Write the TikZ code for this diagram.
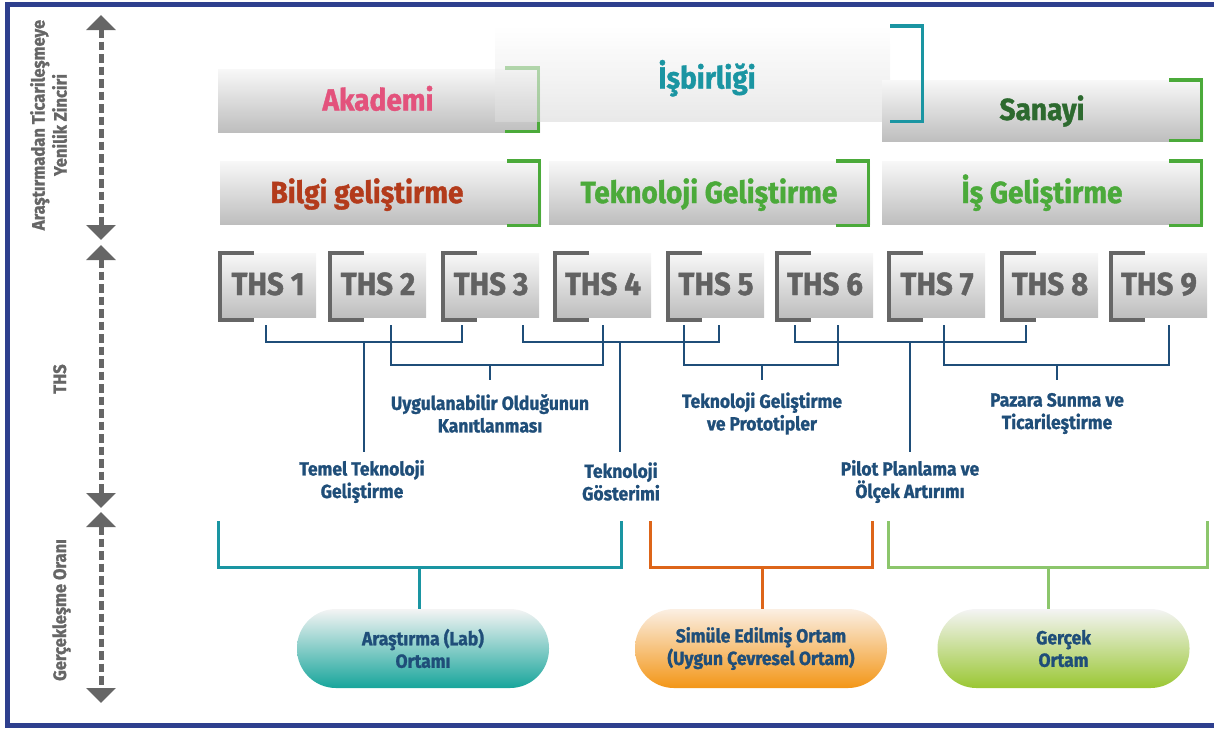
\documentclass[tikz,border=0pt]{standalone}
\usepackage{fontspec}
\setmainfont{Fira Sans}[FakeStretch=0.92, BoldFeatures={FakeBold=1.2}]
\usetikzlibrary{arrows.meta}

\definecolor{framecol}{HTML}{2E3F8E}
\definecolor{axgray}{HTML}{666666}
\definecolor{txtgray}{HTML}{666666}
\definecolor{treeblue}{HTML}{1F4E79}
\definecolor{boxtop}{HTML}{F8F8F8}
\definecolor{boxbot}{HTML}{BEBEBE}
\definecolor{akpink}{HTML}{E3527C}
\definecolor{tealc}{HTML}{1A95A2}
\definecolor{darkgreen}{HTML}{2D6A2F}
\definecolor{rust}{HTML}{B33B1B}
\definecolor{grn}{HTML}{4BAA3A}
\definecolor{orangec}{HTML}{DD6519}
\definecolor{lgreen}{HTML}{8CC66C}
\definecolor{pilltop}{HTML}{F4F4F4}
\definecolor{pillteal}{HTML}{17A59B}
\definecolor{orangetop}{HTML}{FBEFE3}
\definecolor{pillorange}{HTML}{F39617}
\definecolor{pillgreen}{HTML}{9AC733}
\definecolor{thsgray}{HTML}{626262}

\begin{document}
\begin{tikzpicture}[x=1pt,y=-1pt,
  frameline/.style={draw=framecol, line width=5pt},
  axisline/.style={draw=axgray, line width=5pt, dash pattern=on 8.5pt off 4pt,
    {Triangle[width=29pt,length=15pt]}-{Triangle[width=29pt,length=15pt]}},
  sidetxt/.style={rotate=90, text=txtgray, font=\fontsize{18}{22}\selectfont\bfseries, align=center, inner sep=0pt},
  graybox/.style={rectangle, inner sep=0pt, outer sep=0pt, top color=boxtop, bottom color=boxbot, draw=none},
  bigtxt/.style={inner sep=0pt, font=\fontsize{30.5}{36}\selectfont\bfseries},
  rbrk/.style={line width=3.5pt, line join=miter, line cap=butt},
  thsbox/.style={graybox, minimum width=96pt, minimum height=64pt},
  thsbrk/.style={draw=axgray, line width=4pt, line join=miter},
  thstxt/.style={inner sep=0pt, text=thsgray, font=\fontsize{32}{36}\selectfont\bfseries},
  tree/.style={draw=treeblue, line width=2.8pt, line join=miter},
  lbl/.style={inner sep=0pt, text=treeblue, align=center, font=\fontsize{19}{22.5}\selectfont\bfseries},
  envline/.style={line width=3pt, line join=miter},
  pill/.style={rectangle, rounded corners=39pt, minimum width=252pt, minimum height=79pt, inner sep=0pt,
    text=treeblue, align=center, font=\fontsize{19}{22.5}\selectfont\bfseries}
]
\useasboundingbox (0,0) rectangle (1214,729);

% outer frame (open on the right)
\draw[frameline] (1220,4) -- (7.5,4) -- (7.5,725.5) -- (1220,725.5);

% vertical axis with three double-headed dashed segments
\coordinate (ax1) at (101,15);  \coordinate (ax2) at (101,240);
\coordinate (ax3) at (101,245); \coordinate (ax4) at (101,508);
\coordinate (ax5) at (101,512); \coordinate (ax6) at (101,703);
\draw[axisline] (ax1) -- (ax2);
\draw[axisline] (ax3) -- (ax4);
\draw[axisline] (ax5) -- (ax6);

\node[sidetxt] (side1) at (48.5,125) {Araştırmadan Ticarileşmeye\\Yenilik Zinciri};
\node[sidetxt, anchor=base] (side2) at (66,379) {THS};
\node[sidetxt, anchor=base] (side3) at (66,610) {Gerçekleşme Oranı};

% first row: actors
\node[graybox, minimum width=322pt, minimum height=63pt] (akbox) at (379,100.5) {};
\draw[rbrk, draw=grn] (505,67.75) -- (538.25,67.75) -- (538.25,131.25) -- (505,131.25);
\node[graybox, top color=white, bottom color=boxbot!55, fill opacity=0.62, minimum width=395pt, minimum height=95pt] (isbox) at (692.5,73.5) {};
\node[graybox, minimum width=321pt, minimum height=61pt] (sanbox) at (1042.5,110.5) {};
\draw[rbrk, draw=tealc] (890,25.75) -- (922.25,25.75) -- (922.25,121.25) -- (890,121.25);
\draw[rbrk, draw=grn] (1169,79.75) -- (1201.25,79.75) -- (1201.25,140.25) -- (1169,140.25);

\node[bigtxt, text=akpink, anchor=base] (aktxt) at (378,110.5) {Akademi};
\node[bigtxt, text=tealc, anchor=base] (istxt) at (707,88.5) {İşbirliği};
\node[bigtxt, text=darkgreen, anchor=base] (santxt) at (1042,120) {Sanayi};

% second row: development stages
\node[graybox, minimum width=321pt, minimum height=63pt] (bgbox) at (380.5,192.5) {};
\node[graybox, minimum width=321pt, minimum height=63pt] (tgbox) at (709.5,192.5) {};
\node[graybox, minimum width=321pt, minimum height=63pt] (igbox) at (1042.5,192.5) {};
\draw[rbrk, draw=grn] (507,160.75) -- (539.25,160.75) -- (539.25,225.25) -- (507,225.25);
\draw[rbrk, draw=grn] (836,160.75) -- (868.25,160.75) -- (868.25,225.25) -- (836,225.25);
\draw[rbrk, draw=grn] (1169,160.75) -- (1201.25,160.75) -- (1201.25,225.25) -- (1169,225.25);

\node[bigtxt, text=rust, anchor=base] (bgtxt) at (367,203) {Bilgi geliştirme};
\node[bigtxt, text=grn, anchor=base] (tgtxt) at (709,203) {Teknoloji Geliştirme};
\node[bigtxt, text=grn, anchor=base] (igtxt) at (1042,203) {İş Geliştirme};

% technology readiness levels
\foreach \i/\L in {1/218,2/328,3/441,4/553,5/666,6/775,7/887,8/1000,9/1109} {
  \node[thsbox] (t\i) at (\L+50,285) {};
  \draw[thsbrk] (\L+36,252.5) -- (\L+2,252.5) -- (\L+2,319.5) -- (\L+36,319.5);
  \node[thstxt, anchor=base] (th\i) at (\L+50,295) {THS \i};
}

% grouping tree below the levels
\foreach \n/\x in {k1/266,k2/391,k3/462,k4/523,k5/603,k6/684,k7/719,k8/795,k9/838,k10/944,k11/1026,k12/1169}
  \coordinate (\n) at (\x,325);
\coordinate (m1) at (364,342);  \coordinate (e1) at (364,452);
\coordinate (m2) at (620,342);  \coordinate (e3) at (620,452);
\coordinate (m3) at (910,342);  \coordinate (e5) at (910,452);
\coordinate (n1) at (490,365);  \coordinate (e2) at (490,380);
\coordinate (n2) at (762,365);  \coordinate (e4) at (762,380);
\coordinate (n3) at (1057,365); \coordinate (e6) at (1057,380);

\draw[tree] (k1) |- (m1) -| (k3);
\draw[tree] (k4) |- (m2) -| (k7);
\draw[tree] (k8) |- (m3) -| (k11);
\draw[tree] (k2) |- (n1) -| (k5);
\draw[tree] (k6) |- (n2) -| (k9);
\draw[tree] (k10) |- (n3) -| (k12);
\draw[tree] (m1) -- (e1);
\draw[tree] (m2) -- (e3);
\draw[tree] (m3) -- (e5);
\draw[tree] (n1) -- (e2);
\draw[tree] (n2) -- (e4);
\draw[tree] (n3) -- (e6);

\node[lbl] (lb2) at (490,413.5) {Uygulanabilir Olduğunun\\Kanıtlanması};
\node[lbl] (lb4) at (762,413.5) {Teknoloji Geliştirme\\ve Prototipler};
\node[lbl] (lb6) at (1057,413.5) {Pazara Sunma ve\\Ticarileştirme};
\node[lbl] (lb1) at (362,481.5) {Temel Teknoloji\\Geliştirme};
\node[lbl] (lb3) at (621,481.5) {Teknoloji\\Gösterimi};
\node[lbl] (lb5) at (910,481.5) {Pilot Planlama ve\\Ölçek Artırımı};

% environments
\node[pill, top color=pilltop, bottom color=pillteal] (env1) at (423,648.5) {Araştırma (Lab)\\Ortamı};
\node[pill, top color=orangetop, bottom color=pillorange] (env2) at (761,648.5) {Simüle Edilmiş Ortam\\(Uygun Çevresel Ortam)};
\node[pill, top color=pilltop, bottom color=pillgreen] (env3) at (1063.5,648.5) {Gerçek\\Ortam};

\coordinate (b1) at (218,521); \coordinate (b2) at (621,521); \coordinate (p1) at (419,567);
\coordinate (b3) at (650,521); \coordinate (b4) at (872,521); \coordinate (p2) at (762,567);
\coordinate (b5) at (888,521); \coordinate (b6) at (1207,521); \coordinate (p3) at (1048,567);

\draw[envline, draw=tealc] (b1) |- (p1) -| (b2);
\draw[envline, draw=tealc] (p1) -- (p1 |- env1.north);
\draw[envline, draw=orangec] (b3) |- (p2) -| (b4);
\draw[envline, draw=orangec] (p2) -- (p2 |- env2.north);
\draw[envline, draw=lgreen] (b5) |- (p3) -| (b6);
\draw[envline, draw=lgreen] (p3) -- (p3 |- env3.north);
\end{tikzpicture}
\end{document}
